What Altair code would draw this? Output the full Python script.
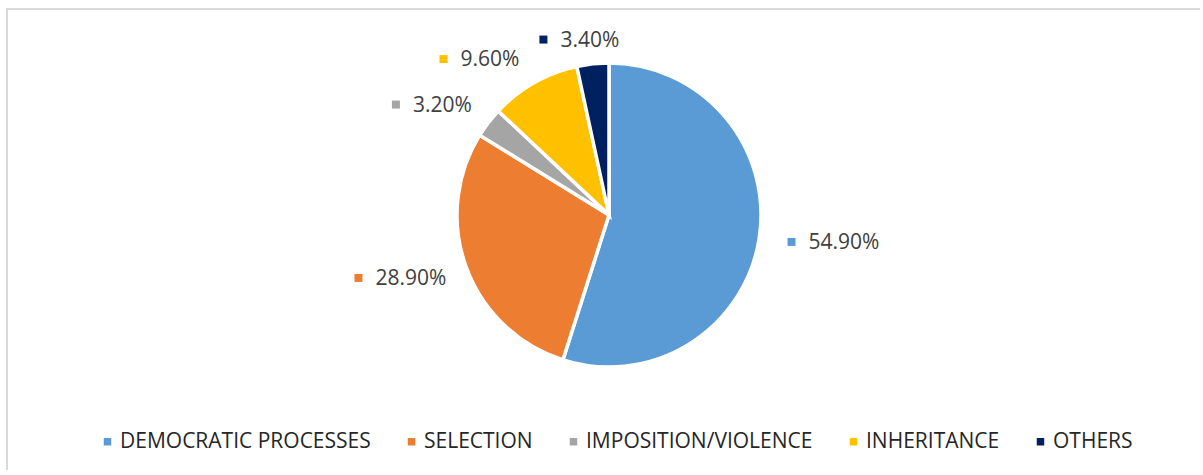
import altair as alt
import pandas as pd

# ---- data ----
categories = ["DEMOCRATIC PROCESSES", "SELECTION", "IMPOSITION/VIOLENCE", "INHERITANCE", "OTHERS"]
values = [54.9, 28.9, 3.2, 9.6, 3.4]
colors = ["#5B9BD5", "#ED7D31", "#A5A5A5", "#FFC000", "#002060"]

# ---- label placement (polar layout, degrees clockwise from 12 o'clock / pixels) ----
label_angle = [98.4, 255.9, 297.4, 313.3, 339.5]
label_radius = [184.5, 258.3, 240.0, 227.4, 187.3]

CX, CY = 602, 206  # pie centre inside the view
R = 152

df = pd.DataFrame({
    "category": categories,
    "value": values,
    "idx": list(range(len(categories))),
    "label": [f"{v:.2f}%" for v in values],
    "lt": label_angle,
    "lr": label_radius,
})

color = alt.Color(
    "category:N",
    scale=alt.Scale(domain=categories, range=colors),
    sort=categories,
    legend=alt.Legend(
        title=None,
        orient="none",
        legendX=90,
        legendY=422,
        direction="horizontal",
        symbolType="square",
        symbolSize=56,
        symbolStrokeWidth=0,
        labelFont="Open Sans",
        labelFontSize=21,
        labelColor="#262626",
        labelOffset=2,
        columnPadding=30,
        labelLimit=400,
    ),
)

border = alt.Chart(alt.Data(values=[{"a": 1}])).mark_rect(
    fillOpacity=0, stroke="#d9d9d9", strokeWidth=2
).encode(x=alt.value(0), x2=alt.value(3000), y=alt.value(0), y2=alt.value(3000))

pie = alt.Chart(df).mark_arc(outerRadius=R, stroke="white", strokeWidth=3.5).encode(
    theta=alt.Theta("value:Q", stack=True),
    order=alt.Order("idx:Q"),
    color=color,
    x=alt.value(CX),
    y=alt.value(CY),
)

pos = alt.Chart(df).transform_calculate(
    sx=f"{CX} + datum.lr * sin(datum.lt * PI / 180)",
    sy=f"{CY} - datum.lr * cos(datum.lt * PI / 180)",
)

squares = pos.mark_square(size=64, filled=True, opacity=1).encode(
    x=alt.X("sx:Q", scale=None, axis=None),
    y=alt.Y("sy:Q", scale=None, axis=None),
    color=alt.Color("category:N", scale=alt.Scale(domain=categories, range=colors), legend=None),
)

texts = pos.mark_text(
    align="left", baseline="middle", dx=17, dy=1,
    font="Open Sans", fontSize=21, color="#404040",
).encode(
    x=alt.X("sx:Q", scale=None, axis=None),
    y=alt.Y("sy:Q", scale=None, axis=None),
    text="label:N",
)

chart = alt.layer(border, pie, squares, texts).properties(
    width=1193,
    height=412,
    padding={"left": 7, "top": 9, "right": 0, "bottom": 49},
    autosize=alt.AutoSizeParams(type="none"),
    background="white",
).configure_view(strokeWidth=0)

chart.save("out.html", embed_options={"renderer": "svg", "actions": False})
